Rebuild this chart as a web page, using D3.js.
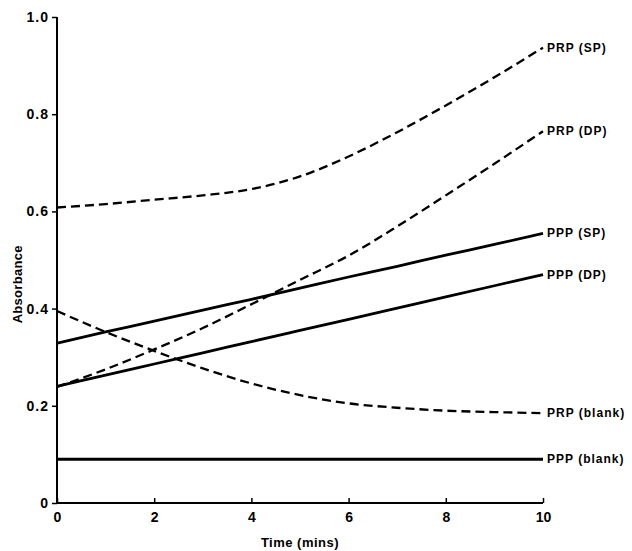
<!DOCTYPE html>
<html>
<head>
<meta charset="utf-8">
<script src="https://cdn.jsdelivr.net/npm/d3@7"></script>
<style>
  body { margin: 0; background: #fff; }
  svg { display: block; font-family: "Liberation Sans", Arial, sans-serif; }
</style>
</head>
<body>
<svg id="chart" width="632" height="551"></svg>
<script>
// time points (mins)
const times = [0, 1, 2, 3, 4, 5, 6, 7, 8, 9, 10]

// absorbance
const prpSP = [0.608, 0.615, 0.624, 0.633, 0.646, 0.672, 0.713, 0.763, 0.818, 0.876, 0.937]
const prpDP = [0.239, 0.275, 0.316, 0.360, 0.409, 0.459, 0.509, 0.569, 0.633, 0.698, 0.765]
const pppSP = [0.329, 0.352, 0.374, 0.397, 0.419, 0.442, 0.465, 0.487, 0.510, 0.532, 0.555]
const pppDP = [0.240, 0.263, 0.286, 0.309, 0.332, 0.355, 0.378, 0.401, 0.424, 0.447, 0.470]
const prpBlank = [0.395, 0.352, 0.313, 0.277, 0.246, 0.222, 0.205, 0.196, 0.190, 0.187, 0.185]
const pppBlank = [0.090, 0.090, 0.090, 0.090, 0.090, 0.090, 0.090, 0.090, 0.090, 0.090, 0.090]

const seriesNames = ['PRP (SP)', 'PRP (DP)', 'PPP (SP)', 'PPP (DP)', 'PRP (blank)', 'PPP (blank)']
const seriesValues = [prpSP, prpDP, pppSP, pppDP, prpBlank, pppBlank]
const seriesDashed = [true, true, false, false, true, false]

const xTicks = [0, 2, 4, 6, 8, 10]
const yTicks = [0, 0.2, 0.4, 0.6, 0.8, 1.0]

const margin = {top: 17, left: 57}
const width = 486
const height = 486

const svg = d3.select('#chart')
const g = svg.append('g')
  .attr('transform', `translate(${margin.left}, ${margin.top})`)

const xScale = d3.scaleLinear().domain([0, 10]).range([0, width])
const yScale = d3.scaleLinear().domain([0, 1]).range([height, 0])

// x axis, ticks point up into the plot
const xAxis = g.append('g')
  .attr('transform', `translate(0, ${height})`)
  .call(d3.axisBottom(xScale).tickValues(xTicks).tickSize(-5).tickPadding(9).tickFormat(d3.format('d')))
xAxis.select('.domain').attr('stroke-width', 2).attr('d', `M0,0H${width}`)
xAxis.selectAll('line').attr('stroke-width', 1.5)
xAxis.selectAll('text')
  .attr('font-size', 14)
  .attr('font-weight', 'bold')
  .attr('fill', '#000')

// y axis
const yAxis = g.append('g')
  .call(d3.axisLeft(yScale).tickValues(yTicks).tickSize(5).tickPadding(3)
    .tickFormat(d => d === 0 ? '0' : d3.format('.1f')(d)))
yAxis.select('.domain').attr('stroke-width', 2).attr('d', `M0,0V${height}`)
yAxis.selectAll('line').attr('stroke-width', 1.5)
yAxis.selectAll('text')
  .attr('font-size', 14)
  .attr('font-weight', 'bold')
  .attr('letter-spacing', 1)
  .attr('fill', '#000')

// lines
const line = d3.line()
  .x((d, i) => xScale(times[i]))
  .y(d => yScale(d))
  .curve(d3.curveMonotoneX)

seriesValues.forEach((vals, i) => {
  g.append('path')
    .datum(vals)
    .attr('fill', 'none')
    .attr('stroke', '#000')
    .attr('stroke-width', seriesDashed[i] ? 2.3 : 2.8)
    .attr('stroke-dasharray', seriesDashed[i] ? '9,5' : null)
    .attr('d', line)

  // label at the end of each line
  g.append('text')
    .attr('x', xScale(times[times.length - 1]) + 4)
    .attr('y', yScale(vals[vals.length - 1]))
    .attr('dy', '0.35em')
    .attr('font-size', 12)
    .attr('font-weight', 'bold')
    .attr('letter-spacing', 1)
    .text(seriesNames[i])
})

// axis titles
svg.append('text')
  .attr('transform', `translate(22, ${margin.top + yScale(0.45)}) rotate(-90)`)
  .attr('text-anchor', 'middle')
  .attr('font-size', 13)
  .attr('font-weight', 'bold')
  .attr('letter-spacing', 0.3)
  .text('Absorbance')

svg.append('text')
  .attr('x', margin.left + xScale(5))
  .attr('y', 547)
  .attr('text-anchor', 'middle')
  .attr('font-size', 13)
  .attr('font-weight', 'bold')
  .attr('letter-spacing', 0.5)
  .text('Time (mins)')
</script>
</body>
</html>
